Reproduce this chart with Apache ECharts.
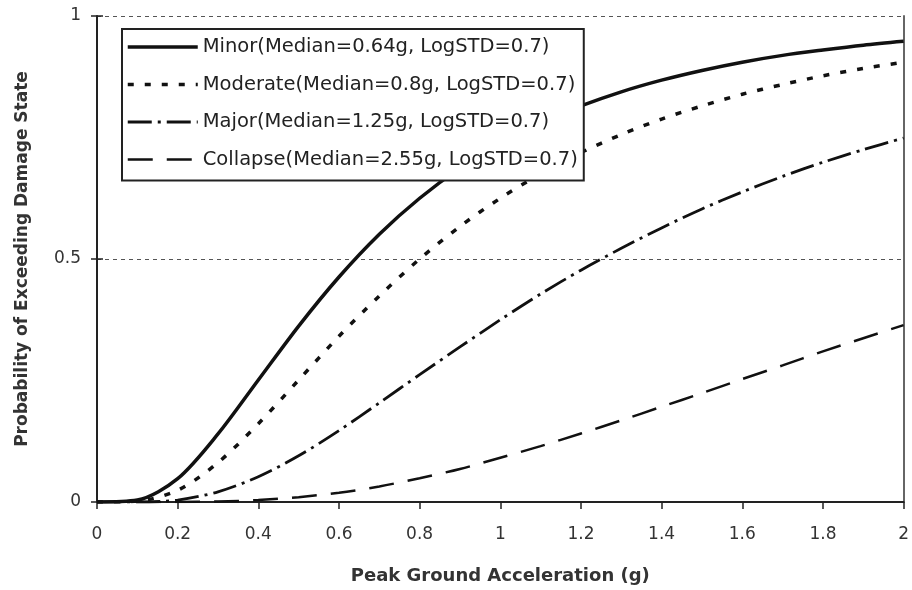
<!DOCTYPE html>
<html>
<head>
<meta charset="utf-8">
<script src="https://cdn.jsdelivr.net/npm/echarts@6/dist/echarts.min.js"></script>
<style>html,body{margin:0;padding:0;background:#fff}#c{width:912px;height:590px}</style>
</head>
<body>
<div id="c"></div>
<script>
const pga = [0, 0.1, 0.2, 0.3, 0.4, 0.5, 0.6, 0.7, 0.8, 0.9, 1.0, 1.1, 1.2, 1.3, 1.4, 1.5, 1.6, 1.7, 1.8, 1.9, 2.0];
const seriesNames = [
  'Minor(Median=0.64g, LogSTD=0.7)',
  'Moderate(Median=0.8g, LogSTD=0.7)',
  'Major(Median=1.25g, LogSTD=0.7)',
  'Collapse(Median=2.55g, LogSTD=0.7)'
];
const minor    = [0, 0.004, 0.048, 0.140, 0.251, 0.362, 0.463, 0.551, 0.625, 0.687, 0.738, 0.781, 0.815, 0.844, 0.868, 0.888, 0.905, 0.919, 0.930, 0.940, 0.948];
const moderate = [0, 0.002, 0.024, 0.081, 0.161, 0.251, 0.341, 0.424, 0.500, 0.567, 0.625, 0.675, 0.719, 0.756, 0.788, 0.815, 0.839, 0.859, 0.877, 0.892, 0.905];
const major    = [0, 0.000, 0.004, 0.021, 0.052, 0.095, 0.147, 0.204, 0.262, 0.319, 0.375, 0.428, 0.477, 0.522, 0.564, 0.603, 0.638, 0.670, 0.699, 0.725, 0.749];
const collapse = [0, 0.000, 0.000, 0.001, 0.004, 0.010, 0.019, 0.032, 0.049, 0.068, 0.091, 0.115, 0.141, 0.168, 0.196, 0.224, 0.253, 0.281, 0.310, 0.337, 0.364];
const yTicks = [0, 0.5, 1];

const pair = arr => pga.map((x, i) => [x, arr[i]]);
const font = '"DejaVu Sans", "Liberation Sans", Arial, sans-serif';
const styles = [
  {width: 3.5, type: 'solid'},
  {width: 3.5, type: [6, 11]},
  {width: 2.8, type: [24, 6, 3, 6]},
  {width: 2.5, type: [25, 14]}
];
const datasets = [minor, moderate, major, collapse];

const chart = echarts.init(document.getElementById('c'), null, {renderer: 'canvas'});
chart.setOption({
  animation: false,
  backgroundColor: '#fff',
  textStyle: {fontFamily: font},
  grid: {left: 97, right: 2, top: 16, bottom: 88, containLabel: false},
  legend: {
    left: 122, top: 29,
    orient: 'vertical',
    data: seriesNames,
    itemWidth: 70, itemHeight: 14, itemGap: 17.5,
    padding: [8, 6, 11, 4],
    borderColor: '#222', borderWidth: 2,
    backgroundColor: '#fff',
    itemStyle: {opacity: 0, color: 'transparent', borderWidth: 0},
    lineStyle: {width: 'inherit'},
    textStyle: {fontFamily: font, fontSize: 19.5, color: '#222'},
    inactiveColor: '#222'
  },
  xAxis: {
    type: 'value', min: 0, max: 2, interval: 0.2,
    axisLine: {lineStyle: {color: '#222', width: 2}},
    axisTick: {show: true, length: 7, lineStyle: {color: '#222', width: 1.5}},
    axisLabel: {fontSize: 17, color: '#333', margin: 24, formatter: v => String(+v.toFixed(1))},
    splitLine: {show: false},
    name: 'Peak Ground Acceleration (g)', nameLocation: 'middle', nameGap: 65,
    nameTextStyle: {fontSize: 18, fontWeight: 'bold', color: '#333'}
  },
  yAxis: [{
    type: 'value', min: 0, max: 1, interval: 0.5,
    axisLine: {show: true, lineStyle: {color: '#222', width: 2}},
    axisTick: {show: true, length: 6, lineStyle: {color: '#222', width: 1.5}},
    axisLabel: {fontSize: 17, color: '#333', margin: 16, formatter: v => yTicks.includes(v) ? String(v) : ''},
    splitLine: {show: true, lineStyle: {color: '#555', width: 1, type: [4, 4]}},
    name: 'Probability of Exceeding Damage State', nameLocation: 'middle', nameGap: 66,
    nameTextStyle: {fontSize: 17, fontWeight: 'bold', color: '#333'}
  }, {
    type: 'value', min: 0, max: 1, position: 'right',
    axisLine: {show: true, lineStyle: {color: '#666', width: 2}},
    axisTick: {show: false}, axisLabel: {show: false}, splitLine: {show: false}
  }, {
    type: 'value', min: 0, max: 1, interval: 0.5, position: 'left',
    axisLine: {show: false},
    axisTick: {show: true, inside: true, length: 6, lineStyle: {color: '#222', width: 1.5}},
    axisLabel: {show: false}, splitLine: {show: false}
  }],
  series: seriesNames.map((name, i) => ({
    name, type: 'line', yAxisIndex: 0,
    data: pair(datasets[i]),
    smooth: 0.3, symbol: 'none',
    lineStyle: Object.assign({color: '#111', cap: 'butt'}, styles[i]),
    itemStyle: {color: '#111'},
    z: 3
  }))
});
</script>
</body>
</html>
